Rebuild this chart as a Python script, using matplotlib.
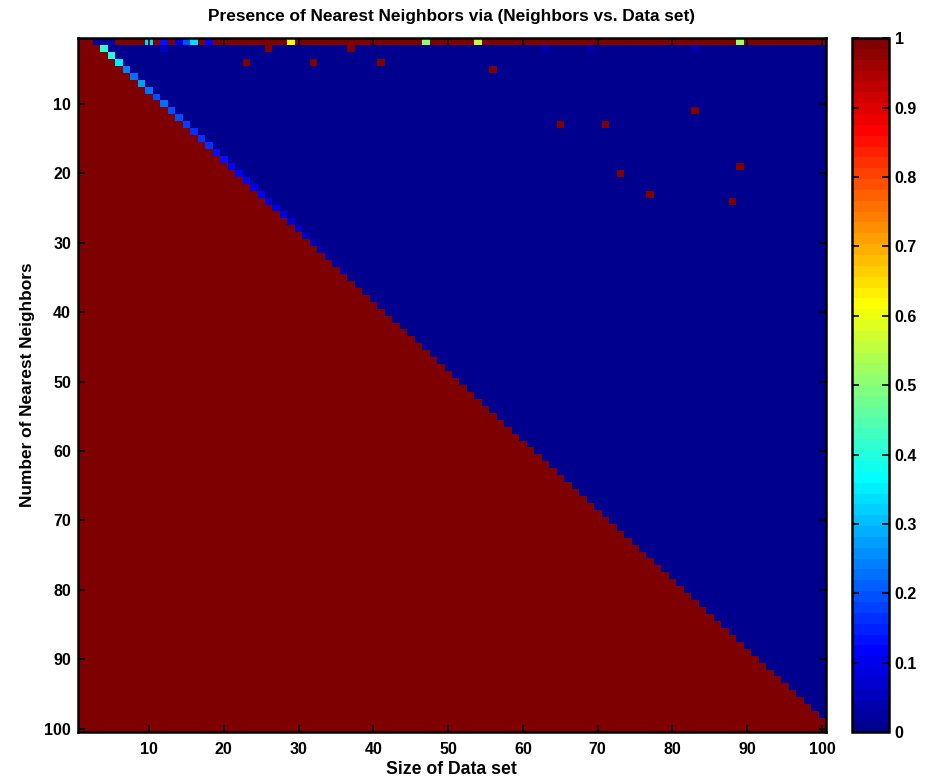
import matplotlib
matplotlib.use('Agg')
import matplotlib.pyplot as plt
from matplotlib.colors import ListedColormap
import numpy as np

plt.rcParams['font.family'] = ['Liberation Sans', 'DejaVu Sans']
plt.rcParams['font.weight'] = 'bold'

# grid size (data set size 1..100, neighbors 1..100)
n_size = 100
n_neigh = 100

# row 1 (1 neighbor): red everywhere except these columns
top_row_cols = [3, 4, 5, 10, 12, 14, 15, 16, 18, 29, 47, 54, 89]
top_row_vals = [0.02, 0.02, 0.02, 0.34, 0.13, 0.08, 0.19, 0.33, 0.12, 0.60, 0.50, 0.56, 0.53]

# value of the boundary cell (row r, column r+2) for rows 2..98
diag_vals = [0.41, 0.40, 0.35, 0.24, 0.22, 0.27, 0.22, 0.20, 0.22, 0.19,
             0.20, 0.18, 0.17, 0.16, 0.17, 0.14, 0.14, 0.12, 0.12,
             0.11, 0.10, 0.10, 0.09, 0.08, 0.08, 0.07, 0.06, 0.05, 0.04,
             0.03, 0.03, 0.02, 0.02, 0.01, 0.01, 0.01, 0.01, 0.01, 0.01,
             0.01, 0.01, 0.01, 0.01, 0.01, 0.01, 0.01, 0.01, 0.01, 0.01,
             0.01, 0.01, 0.01, 0.01, 0.01, 0.01, 0.01, 0.01, 0.01, 0.01,
             0.01, 0.01, 0.01, 0.01, 0.01, 0.01, 0.01, 0.01, 0.01, 0.01,
             0.01, 0.01, 0.01, 0.01, 0.01, 0.01, 0.01, 0.01, 0.01, 0.01,
             0.01, 0.01, 0.01, 0.01, 0.01, 0.01, 0.01, 0.01, 0.01, 0.01,
             0.01, 0.01, 0.01, 0.01, 0.01, 0.01, 0.01, 0.01]

# isolated cells (row, column, value) in the upper region
spot_rows = [2, 2, 4, 4, 4, 5, 13, 13, 11, 20, 23, 19, 24, 2, 2, 2, 2]
spot_cols = [26, 37, 23, 32, 41, 56, 65, 71, 83, 73, 77, 89, 88, 12, 63, 69, 83]
spot_vals = [1, 1, 1, 1, 1, 1, 1, 1, 1, 1, 1, 1, 1, 0.05, 0.04, 0.04, 0.04]


def matlab_jet(m=64):
    n = int(np.ceil(m / 4))
    u = np.concatenate([np.arange(1, n + 1) / n, np.ones(n - 1), np.arange(n, 0, -1) / n])
    g = int(np.ceil(n / 2)) - (1 if m % 4 == 1 else 0) + np.arange(1, len(u) + 1)
    r = g + n
    b = g - n
    J = np.zeros((m, 3))
    J[r[r <= m] - 1, 0] = u[r <= m]
    J[g[g <= m] - 1, 1] = u[g <= m]
    J[b[b >= 1] - 1, 2] = u[b >= 1]
    return ListedColormap(J)


M = np.zeros((n_neigh, n_size))
for r in range(1, n_neigh + 1):
    M[r - 1, :min(r + 1, n_size)] = 1
M[0, :] = 1
for c, v in zip(top_row_cols, top_row_vals):
    M[0, c - 1] = v
for i, v in enumerate(diag_vals):
    r = i + 2
    M[r - 1, r + 1] = v
for r, c, v in zip(spot_rows, spot_cols, spot_vals):
    M[r - 1, c - 1] = v

fig = plt.figure(figsize=(9.34, 7.78), dpi=100)
ax = fig.add_axes([0.0835, 0.059, 0.8005, 0.892])
cax = fig.add_axes([0.912, 0.059, 0.040, 0.892])

im = ax.imshow(M, cmap=matlab_jet(64), vmin=0, vmax=1, aspect='auto',
               interpolation='nearest', extent=(0.5, n_size + 0.5, n_neigh + 0.5, 0.5))
ax.set_xticks(np.arange(10, 101, 10))
ax.set_yticks(np.arange(10, 101, 10))
ax.tick_params(direction='in', length=5, width=1.2, top=True, right=True,
               labelsize=11.5, pad=5)
ax.tick_params(axis='x', pad=7)
for s in ax.spines.values():
    s.set_linewidth(1.8)
ax.set_title('Presence of Nearest Neighbors via (Neighbors vs. Data set)',
             fontsize=12.4, fontweight='bold', pad=12)
ax.set_xlabel('Size of Data set', fontsize=12.7, fontweight='bold', labelpad=3)
ax.set_ylabel('Number of Nearest Neighbors', fontsize=12.4, fontweight='bold', labelpad=7)

cb = fig.colorbar(im, cax=cax, ticks=np.arange(0, 1.01, 0.1))
cb.ax.set_yticklabels(['0', '0.1', '0.2', '0.3', '0.4', '0.5', '0.6', '0.7', '0.8', '0.9', '1'])
cb.ax.tick_params(direction='in', length=5, width=1.2, left=True, right=True,
                  labelsize=11.5, pad=4)
cb.outline.set_linewidth(1.8)

fig.savefig('out.png', dpi=100)
